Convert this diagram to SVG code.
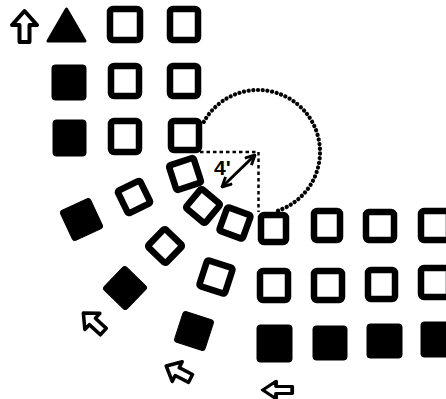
<svg xmlns="http://www.w3.org/2000/svg" width="446" height="399" viewBox="0 0 446 399">
<style>
.sq{fill:#fff;stroke:#000;stroke-width:6.5;}
.fsq{fill:#000;stroke:#000;stroke-width:1;}
.arw{fill:#fff;stroke:#000;stroke-width:4;stroke-linejoin:round;}
.dot{fill:none;stroke:#000;stroke-width:4.2;stroke-linecap:round;stroke-dasharray:0.1 4.6;}
.dash{fill:none;stroke:#000;stroke-width:2.5;stroke-dasharray:3.5 3;}
.dim{fill:none;stroke:#000;stroke-width:3;}
.lbl{font-family:"Liberation Sans",Arial,sans-serif;font-weight:bold;font-size:21px;fill:#000;}
</style>
<defs>
<path id="arrowshape" class="arw" d="M0,-15 L12.5,-1 L5,-1 L5,16 L-5,16 L-5,-1 L-12.5,-1 Z"/>
<marker id="vh" viewBox="0 0 10 10" refX="9" refY="5" markerUnits="userSpaceOnUse" markerWidth="12" markerHeight="12" orient="auto-start-reverse">
<path d="M1,1 L9,5 L1,9" fill="none" stroke="#000" stroke-width="2.4"/>
</marker>
</defs>
<rect width="446" height="399" fill="#fff"/>

<g id="connectors">
<path class="dot" d="M203.8,121.9 A62,62 0 1 1 275.1,211.6"/>
<line class="dash" x1="200" y1="152" x2="258" y2="152"/>
<line class="dash" x1="258.5" y1="152" x2="258.5" y2="212"/>
<line class="dim" x1="222" y1="187" x2="255" y2="155" marker-start="url(#vh)" marker-end="url(#vh)"/>
<text class="lbl" x="214" y="175">4'</text>
</g>

<g id="arrow-up"><use href="#arrowshape" transform="translate(24.5,26)"/></g>
<g id="triangle"><path d="M66.5,9 L85,41 L48,41 Z" fill="#000" stroke="#000" stroke-width="3" stroke-linejoin="round"/></g>

<g id="r1c2"><rect class="sq" x="110" y="9" width="30" height="31" rx="3"/></g>
<g id="r1c3"><rect class="sq" x="170" y="9" width="28" height="31" rx="3"/></g>
<g id="r2c1"><rect class="fsq" x="52" y="65" width="34" height="35" rx="3"/></g>
<g id="r2c2"><rect class="sq" x="111" y="66" width="28" height="30" rx="3"/></g>
<g id="r2c3"><rect class="sq" x="170" y="66" width="28" height="30" rx="3"/></g>
<g id="r3c1"><rect class="fsq" x="53" y="120" width="33" height="36" rx="3"/></g>
<g id="r3c2"><rect class="sq" x="111" y="121" width="28" height="31" rx="3"/></g>
<g id="r3c3"><rect class="sq" x="171" y="121" width="28" height="29" rx="3"/></g>

<g id="arc1"><rect class="sq" x="-13" y="-13" width="26" height="26" rx="2" transform="translate(185,174) rotate(-18)"/></g>
<g id="arc2"><rect class="sq" x="-12.5" y="-12.5" width="25" height="25" rx="2" transform="translate(203,206) rotate(40)"/></g>
<g id="arc3"><rect class="sq" x="-12.5" y="-12.5" width="25" height="25" rx="2" transform="translate(235,223) rotate(20)"/></g>

<g id="m1"><rect class="fsq" x="-16.5" y="-16.5" width="33" height="33" rx="3" transform="translate(81.5,219.5) rotate(-25)"/></g>
<g id="m2"><rect class="sq" x="-12.5" y="-12.5" width="25" height="25" rx="2" transform="translate(134,197) rotate(-26)"/></g>
<g id="m3"><rect class="sq" x="-12.5" y="-12.5" width="25" height="25" rx="2" transform="translate(165,246) rotate(44)"/></g>
<g id="m4"><rect class="fsq" x="-16" y="-16" width="32" height="32" rx="3" transform="translate(125,288) rotate(44)"/></g>
<g id="m5"><rect class="sq" x="-13.5" y="-13.5" width="27" height="27" rx="2" transform="translate(216,277) rotate(18)"/></g>
<g id="m6"><rect class="fsq" x="-16" y="-16" width="32" height="32" rx="3" transform="translate(194,331) rotate(18)"/></g>

<g id="arrow-diag1"><use href="#arrowshape" transform="translate(93,322) rotate(-47) scale(0.88)"/></g>
<g id="arrow-diag2"><use href="#arrowshape" transform="translate(178,372) rotate(-63) scale(0.88)"/></g>
<g id="arrow-left"><use href="#arrowshape" transform="translate(277,390) rotate(-90) scale(0.7,0.95)"/></g>

<g id="a1"><rect class="sq" x="261" y="215" width="25" height="27" rx="3"/></g>
<g id="a2"><rect class="sq" x="314" y="211" width="26" height="29" rx="3"/></g>
<g id="a3"><rect class="sq" x="366" y="212" width="28" height="28" rx="3"/></g>
<g id="a4"><rect class="sq" x="421" y="211" width="28" height="29" rx="3"/></g>
<g id="b1"><rect class="sq" x="260" y="271" width="28" height="29" rx="3"/></g>
<g id="b2"><rect class="sq" x="314" y="271" width="28" height="29" rx="3"/></g>
<g id="b3"><rect class="sq" x="368" y="270" width="27" height="29" rx="3"/></g>
<g id="b4"><rect class="sq" x="421" y="268" width="28" height="29" rx="3"/></g>
<g id="c1"><rect class="fsq" x="257" y="325" width="35" height="37" rx="3"/></g>
<g id="c2"><rect class="fsq" x="313" y="326" width="34" height="34" rx="3"/></g>
<g id="c3"><rect class="fsq" x="367" y="324" width="35" height="34" rx="3"/></g>
<g id="c4"><rect class="fsq" x="421" y="322" width="34" height="35" rx="3"/></g>
</svg>
